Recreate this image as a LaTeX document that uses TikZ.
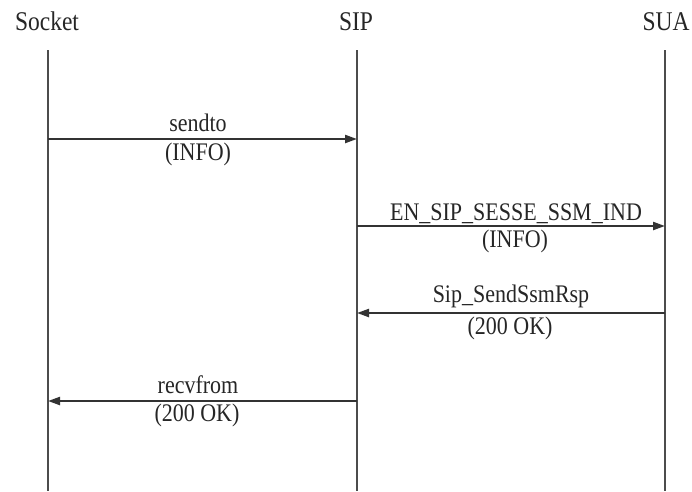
\documentclass[tikz,border=0pt]{standalone}
\usepackage{fontspec}
\setmainfont{Liberation Serif}
\usetikzlibrary{arrows.meta}
\newcommand{\tall}[1]{\scalebox{1}[1.15]{#1}}
\begin{document}
\begin{tikzpicture}[x=1pt,y=-1pt,
  lbl/.style={font=\fontsize{22}{24}\selectfont, text=black!85, anchor=base, inner sep=0pt},
  head/.style={lbl, font=\fontsize{23.5}{26}\selectfont},
  life/.style={draw=black!70, line width=2.3pt},
  msg/.style={draw=black!80, line width=2.2pt, -{Triangle[length=12pt,width=8pt]}}]
  \useasboundingbox[fill=white] (0,0) rectangle (692,491);
  % participants
  \node[head] (socket) at (47,30) {\tall{Socket}};
  \node[head] (sip)    at (356,30) {\tall{SIP}};
  \node[head] (sua)    at (666,30) {\tall{SUA}};
  % lifeline end points
  \coordinate (s0) at (48,50);  \coordinate (s1) at (48,491);
  \coordinate (p0) at (357,50); \coordinate (p1) at (357,491);
  \coordinate (u0) at (665,50); \coordinate (u1) at (665,491);
  \draw[life] (s0) -- (s1);
  \draw[life] (p0) -- (p1);
  \draw[life] (u0) -- (u1);
  % message anchors on the lifelines
  \coordinate (m1s) at (48,139);  \coordinate (m1p) at (357,139);
  \coordinate (m2p) at (357,226); \coordinate (m2u) at (665,226);
  \coordinate (m3u) at (665,313); \coordinate (m3p) at (357,313);
  \coordinate (m4p) at (357,401); \coordinate (m4s) at (48,401);
  \draw[msg] (m1s) -- (m1p);
  \draw[msg] (m2p) -- (m2u);
  \draw[msg] (m3u) -- (m3p);
  \draw[msg] (m4p) -- (m4s);
  % message labels
  \node[lbl] (l1a) at (198,131) {\tall{sendto}};
  \node[lbl] (l1b) at (198,160) {\tall{(INFO)}};
  \node[lbl] (l2a) at (516,220) {\tall{EN\_SIP\_SESSE\_SSM\_IND}};
  \node[lbl] (l2b) at (515,247) {\tall{(INFO)}};
  \node[lbl] (l3a) at (511,302) {\tall{Sip\_SendSsmRsp}};
  \node[lbl] (l3b) at (510,334) {\tall{(200 OK)}};
  \node[lbl] (l4a) at (198,393) {\tall{recvfrom}};
  \node[lbl] (l4b) at (197,421) {\tall{(200 OK)}};
\end{tikzpicture}
\end{document}
